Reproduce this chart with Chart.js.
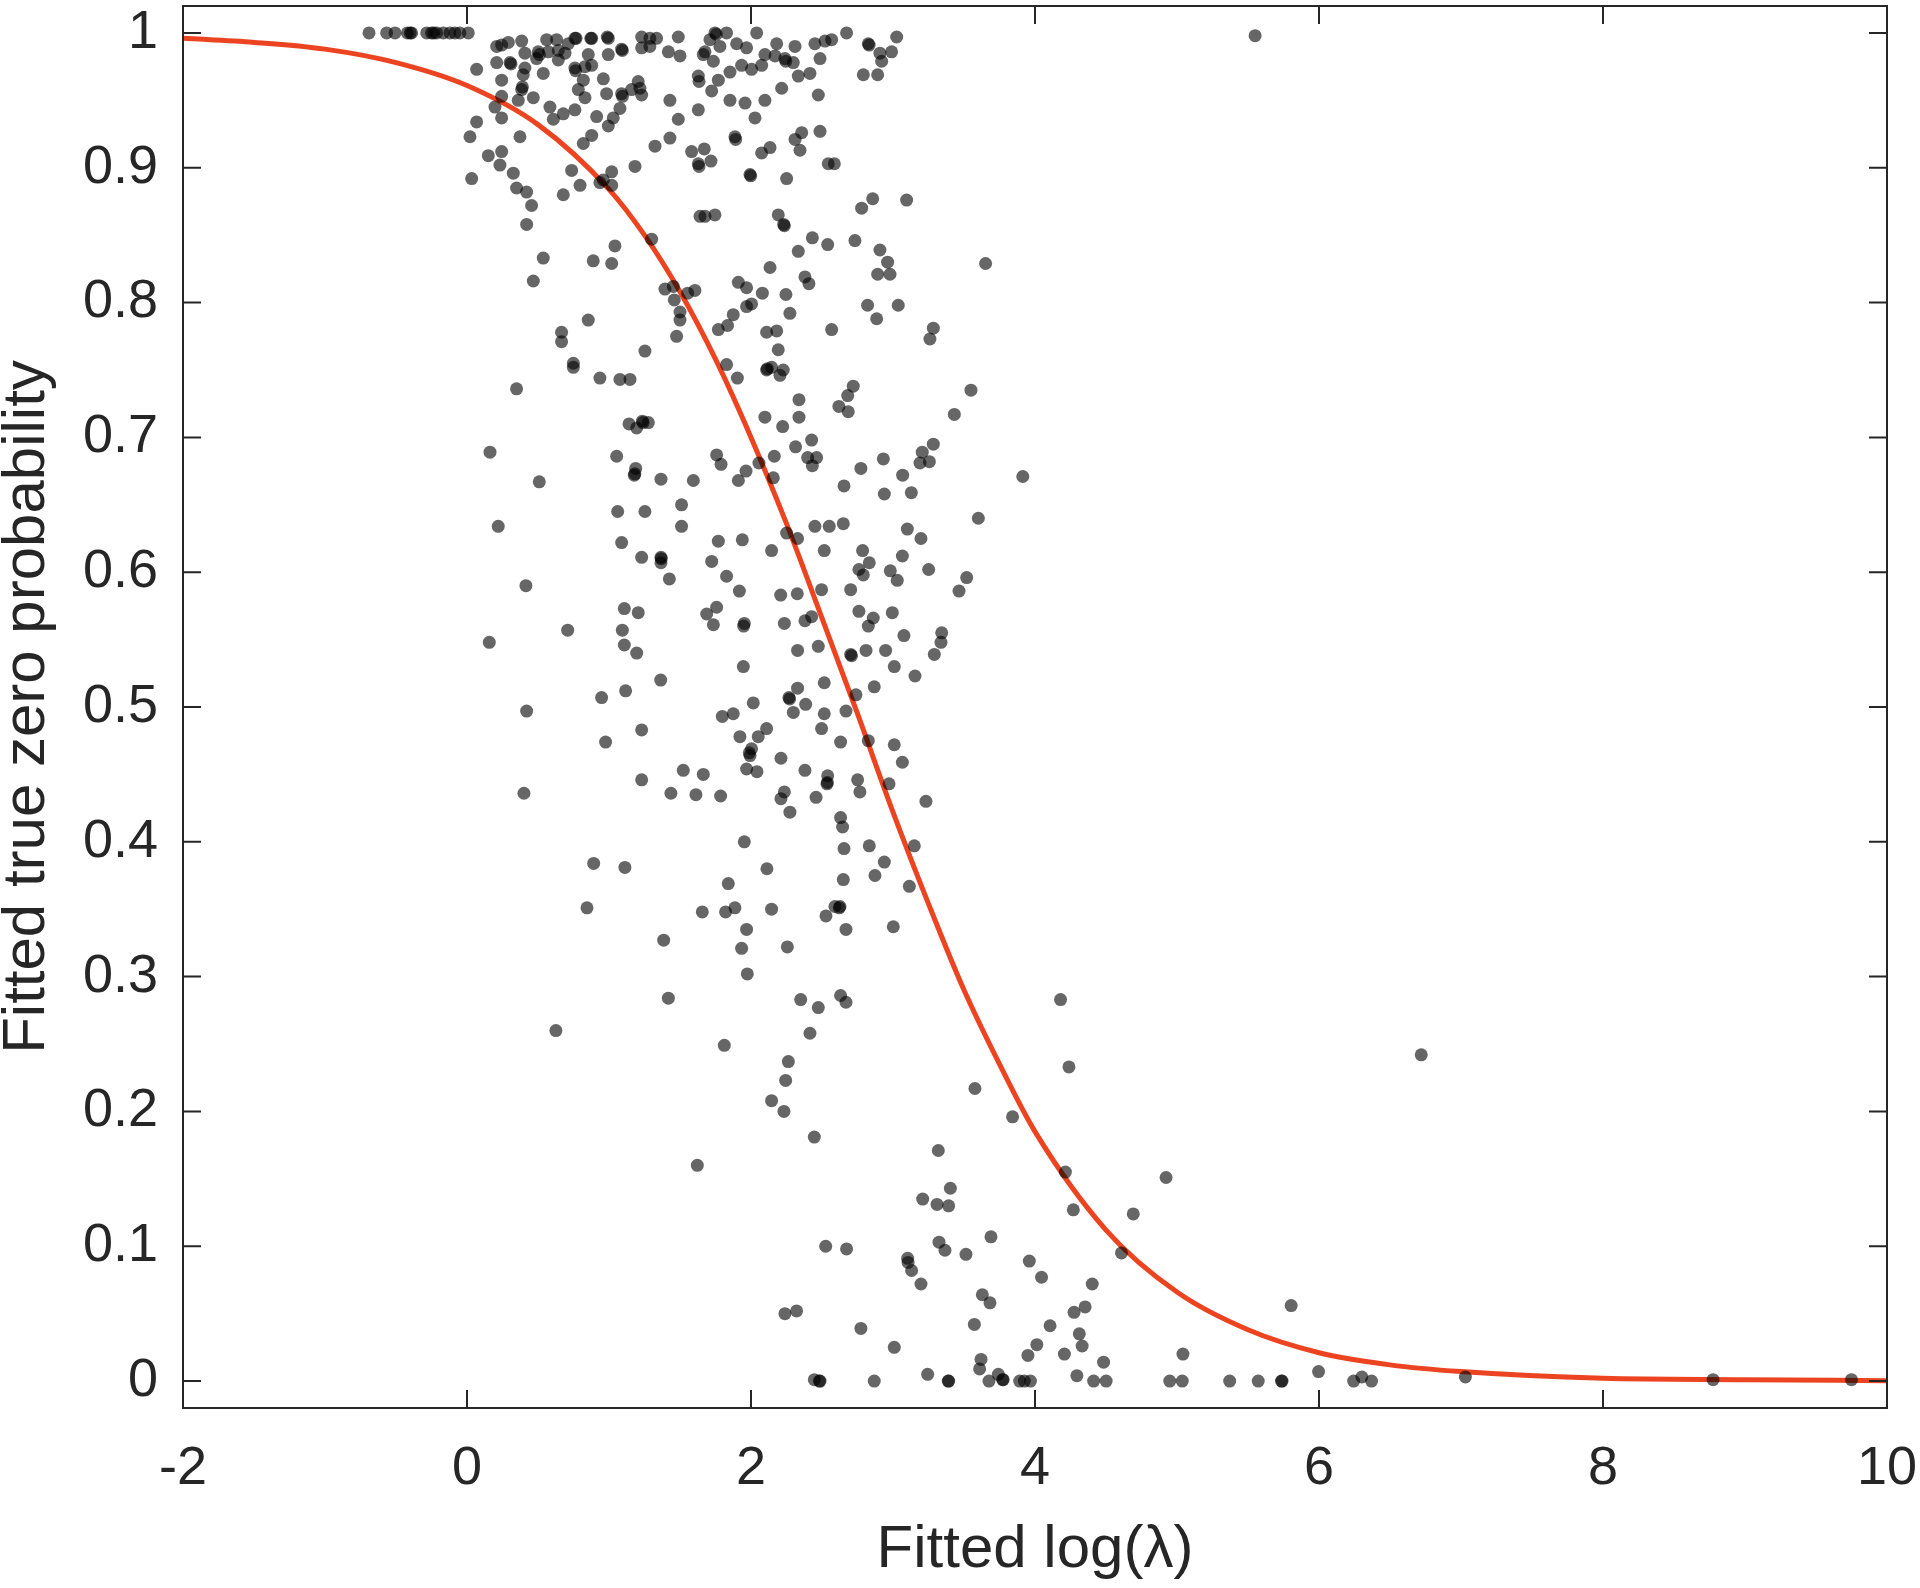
<!DOCTYPE html>
<html>
<head>
<meta charset="utf-8">
<title>Fitted true zero probability</title>
<script src="https://cdn.jsdelivr.net/npm/chart.js@4"></script>
<style>
	html, body { margin: 0; padding: 0; background: #ffffff; }
	#wrap { width: 1920px; height: 1588px; position: relative; }
</style>
</head>
<body>
<div id="wrap"><canvas id="zeroProbChart"></canvas></div>
<script>
// Axis ticks
var xTicks = [-2, 0, 2, 4, 6, 8, 10];
var yTicks = [0, 0.1, 0.2, 0.3, 0.4, 0.5, 0.6, 0.7, 0.8, 0.9, 1];

// Fitted curve
var curveX = [-2, -1.5, -1, -0.5, 0, 0.5, 1, 1.25, 1.5, 1.75, 2, 2.25, 2.5, 2.75, 3, 3.25, 3.5, 3.75, 4, 4.5, 5, 5.5, 6, 6.5, 7, 8, 9, 10];
var curveY = [0.996, 0.993, 0.988, 0.978, 0.961, 0.932, 0.884, 0.850, 0.808, 0.758, 0.700, 0.636, 0.566, 0.495, 0.422, 0.354, 0.290, 0.235, 0.185, 0.112, 0.066, 0.038, 0.021, 0.012, 0.007, 0.002, 0.001, 0.0003];

// Observed points [log(lambda), zero probability]
var topRow = [
	[-0.69,1.0],[-0.566,1.0],[-0.507,1.0],[-0.42,1.0],[-0.40,1.0],[-0.39,1.0],[-0.284,1.0],[-0.25,1.0],
	[-0.235,1.0],[-0.214,1.0],[-0.167,1.0],[-0.12,1.0],[-0.085,1.0],[-0.05,1.0],[0.009,1.0]
];
var lowLambdaPts = [
	[0.244,0.991],[0.291,0.993],[0.385,0.994],[0.561,0.995],[0.631,0.995],[0.713,0.992],
	[0.760,0.996],[0.768,0.996],[0.878,0.996],[0.872,0.996],[0.995,0.996],[0.988,0.997],
	[1.230,0.997],[1.288,0.996],[1.335,0.996],[1.488,0.997],
	[0.209,0.990],[0.408,0.985],[0.502,0.986],[0.510,0.984],[0.573,0.986],[0.643,0.987],[0.690,0.985],[0.854,0.984],
	[0.995,0.984],[1.089,0.988],[1.094,0.987],[1.230,0.989],[1.288,0.990],[1.418,0.986],[1.500,0.983],
	[0.209,0.978],[0.303,0.978],[0.310,0.977],[0.408,0.974],[0.490,0.981],[0.643,0.980],[0.760,0.974],[0.765,0.972],
	[0.831,0.975],[0.878,0.976],[0.068,0.973],[0.537,0.970],[0.396,0.969],
	[0.244,0.965],[0.819,0.965],[0.960,0.966],[1.206,0.964],[1.218,0.959],
	[0.385,0.958],[0.390,0.960],[0.361,0.950],[0.467,0.952],[0.244,0.953],[0.784,0.958],[0.831,0.952],[0.983,0.955],
	[1.089,0.955],[1.095,0.953],[1.159,0.958],[1.230,0.954],[1.429,0.950],
	[0.197,0.945],[0.584,0.945],[0.678,0.940],[0.760,0.943],[0.608,0.936],[0.913,0.938],[1.030,0.937],[0.995,0.931],
	[1.077,0.944],[0.244,0.937],[0.068,0.934],[1.488,0.936],
	[0.021,0.923],[0.373,0.923],[0.878,0.924],[0.819,0.918],[1.324,0.916],[1.429,0.922],
	[0.150,0.909],[0.244,0.912],[0.232,0.902],[0.033,0.892],[0.326,0.896],[0.737,0.898],[1.019,0.897],[1.183,0.901],
	[0.349,0.885],[0.420,0.882],[0.796,0.887],[0.960,0.891],[0.936,0.889],[1.019,0.887],[0.678,0.880],[0.455,0.872],[0.420,0.858],
	[1.300,0.847],[1.042,0.842],[0.537,0.833],[0.889,0.831],[1.019,0.829],[0.467,0.816],
	[1.394,0.810],[1.453,0.812],[1.460,0.802],[1.500,0.793],[1.500,0.787],[0.854,0.787],[0.666,0.778],[0.666,0.771],
	[1.476,0.775],[1.253,0.764],
	[0.749,0.755],[0.749,0.752],[0.936,0.744],[1.077,0.743],[1.148,0.743],[0.349,0.736],[1.141,0.710],[1.195,0.707],
	[1.235,0.712],[1.240,0.711],[1.277,0.711],[0.162,0.689],[1.054,0.686],[1.188,0.677],[1.178,0.672],[1.182,0.673],
	[1.366,0.669],[0.509,0.667],[1.061,0.645],[1.253,0.645],[1.511,0.650],[1.511,0.634],[0.220,0.634],[1.089,0.622],
	[1.230,0.611],[1.366,0.611],[1.368,0.610],[1.366,0.607],[1.425,0.595],[0.415,0.590],[1.108,0.573],[1.206,0.570],
	[0.709,0.557],[1.094,0.557],[1.108,0.546],[1.195,0.540],[0.157,0.548],[1.364,0.520],[1.117,0.512],[0.948,0.507],
	[0.420,0.497],[1.230,0.483],[0.976,0.474],[1.523,0.453],[1.230,0.446],[1.436,0.436],[0.401,0.436],[0.892,0.384],
	[1.112,0.381],[0.845,0.351],[1.385,0.327],[1.418,0.284],[0.626,0.260]
];
var midLambdaPts = [
	[1.746,1.000],[1.756,0.999],[1.828,1.000],[2.040,1.000],[1.711,0.995],[1.676,0.986],[1.664,0.984],[1.781,0.990],
	[1.899,0.992],[1.969,0.989],[1.735,0.979],[1.629,0.968],[1.634,0.964],[1.852,0.971],[1.934,0.976],[2.004,0.973],
	[2.075,0.976],[2.098,0.984],[2.169,0.983],[2.239,0.981],[2.245,0.979],[2.298,0.978],[2.181,0.992],[2.310,0.990],
	[2.450,0.992],[2.521,0.994],[2.568,0.995],[2.673,1.000],[2.826,0.992],[2.832,0.991],[2.908,0.985],[2.920,0.979],
	[2.990,0.986],[3.026,0.997],[2.486,0.981],[2.333,0.968],[2.415,0.970],[2.791,0.969],[2.892,0.969],[1.770,0.965],
	[1.723,0.957],[1.852,0.950],[1.958,0.948],[2.098,0.950],[2.028,0.937],[2.216,0.959],[2.474,0.954],[1.629,0.943],
	[1.887,0.923],[1.892,0.921],[2.310,0.921],[2.357,0.926],[2.345,0.913],[2.486,0.927],[1.582,0.912],[1.671,0.914],
	[1.629,0.903],[1.634,0.901],[1.718,0.905],[2.075,0.911],[2.134,0.915],[2.544,0.903],[2.587,0.903],[1.993,0.895],
	[1.998,0.894],[2.251,0.892],[2.779,0.870],[2.857,0.877],[3.096,0.876],[1.641,0.864],[1.676,0.864],[1.746,0.865],
	[2.192,0.865],[2.230,0.858],[2.235,0.857],[2.432,0.848],[2.540,0.843],[2.333,0.838],[2.732,0.846],[2.908,0.839],
	[2.962,0.830],[2.892,0.821],[2.979,0.821],[3.652,0.829],[2.134,0.826],[1.911,0.815],[1.969,0.811],[2.080,0.807],
	[2.246,0.806],[2.380,0.819],[2.408,0.814],[1.605,0.809],[1.554,0.807],[1.969,0.797],[2.004,0.799],[1.875,0.791],
	[2.274,0.792],[2.821,0.798],[2.885,0.788],[3.037,0.798],[1.770,0.780],[1.835,0.783],[2.110,0.778],[2.181,0.779],
	[2.568,0.780],[2.192,0.765],[3.284,0.781],[3.260,0.773],
	[1.828,0.754],[2.110,0.750],[2.115,0.751],[2.145,0.752],[2.227,0.750],[2.204,0.746],[1.904,0.744],[2.720,0.738],
	[2.681,0.731],[2.619,0.723],[2.685,0.719],[3.549,0.735],[3.432,0.717],[2.338,0.728],[2.338,0.715],[2.098,0.715],
	[2.223,0.708],[2.427,0.698],[2.314,0.693],[2.399,0.685],[2.462,0.685],[2.432,0.679],[2.164,0.686],[1.758,0.687],
	[1.789,0.680],[2.056,0.681],[1.965,0.675],[1.911,0.668],[2.157,0.670],[1.594,0.668],[2.932,0.684],[2.774,0.677],
	[3.068,0.672],[3.284,0.695],[3.206,0.689],[3.190,0.681],[3.256,0.682],[2.655,0.664],[2.939,0.658],[3.129,0.659],
	[3.601,0.640],[2.450,0.634],[2.551,0.634],[2.650,0.636],[2.251,0.629],[2.328,0.625],[1.770,0.623],[1.939,0.624],
	[2.145,0.616],[1.723,0.608],[1.828,0.597],[1.918,0.586],[2.209,0.583],[2.326,0.584],[2.497,0.587],[2.702,0.587],
	[2.516,0.616],[2.786,0.616],[2.833,0.607],[2.760,0.602],[2.791,0.598],[2.981,0.601],[3.030,0.594],[3.101,0.632],
	[3.197,0.625],[3.066,0.612],[3.251,0.602],[3.519,0.596],[3.465,0.586],[1.758,0.574],[1.688,0.569],[1.735,0.561],
	[1.953,0.562],[1.948,0.560],[2.235,0.562],[2.380,0.564],[2.427,0.567],[2.760,0.571],[2.861,0.566],[2.826,0.560],
	[2.995,0.570],[3.077,0.553],[3.343,0.555],[3.338,0.548],[3.291,0.539],[2.328,0.542],[2.474,0.545],[2.702,0.539],
	[2.708,0.538],[2.810,0.542],[2.948,0.542],[3.009,0.530],[3.155,0.523],[1.946,0.530],[2.516,0.518],[2.328,0.514],
	[2.267,0.507],[2.272,0.506],[2.016,0.503],[2.385,0.502],[2.739,0.509],[2.868,0.515],[3.914,0.671],
	[1.798,0.493],[1.875,0.495],[2.298,0.496],[2.516,0.495],[2.669,0.497],[2.110,0.484],[1.922,0.478],[2.051,0.478],
	[2.497,0.484],[2.631,0.474],[2.826,0.475],[3.009,0.472],[3.066,0.459],[2.004,0.469],[1.988,0.466],[1.993,0.464],
	[2.211,0.462],[1.969,0.454],[2.042,0.452],[2.380,0.453],[1.664,0.450],[2.540,0.449],[2.535,0.443],[2.538,0.444],
	[2.751,0.446],[2.972,0.443],[2.767,0.437],[1.612,0.435],[1.786,0.434],[2.235,0.437],[2.211,0.432],[2.458,0.433],
	[2.274,0.422],[3.232,0.430],[2.631,0.418],[2.645,0.411],[1.953,0.400],[2.655,0.395],[2.833,0.397],[3.150,0.397],
	[2.939,0.385],[2.873,0.375],[2.112,0.380],[2.650,0.372],[3.115,0.367],[1.840,0.369],[1.657,0.348],[1.821,0.348],
	[1.887,0.351],[2.145,0.350],[2.591,0.352],[2.627,0.352],[2.622,0.351],[2.528,0.345],[2.669,0.335],[3.002,0.337],
	[1.969,0.335],[1.934,0.321],[2.256,0.322],[1.974,0.302],[2.350,0.283],[2.474,0.277],[2.631,0.286],[2.669,0.281],
	[2.415,0.258],[1.812,0.249]
];
var highLambdaPts = [
	[2.263,0.237],[2.244,0.223],[2.145,0.208],[2.232,0.200],[2.446,0.181],[1.622,0.160],[3.577,0.217],[3.319,0.171],
	[3.404,0.143],[3.209,0.135],[3.310,0.131],[3.392,0.130],[3.690,0.107],[2.526,0.100],[2.673,0.098],[3.324,0.103],
	[3.366,0.097],[3.514,0.094],[3.103,0.091],[3.106,0.088],[3.131,0.082],[3.197,0.072],[3.629,0.064],[3.683,0.058],
	[2.239,0.050],[2.321,0.052],[2.774,0.039],[3.573,0.042],[3.009,0.025],[3.620,0.016],[3.610,0.009],[2.446,0.001],
	[2.486,0.000],[2.482,0.000],[2.868,0.000],[3.244,0.005],[3.389,0.000],[3.392,0.000],[3.676,0.000],[3.742,0.005],
	[3.772,0.001],[3.776,0.001],
	[4.239,0.233],[4.180,0.283],[3.842,0.196],[4.214,0.155],[4.270,0.127],[4.923,0.151],[4.692,0.124],[4.609,0.095],
	[3.960,0.089],[4.046,0.077],[4.403,0.072],[4.353,0.055],[4.275,0.051],[4.106,0.041],[4.312,0.035],[4.332,0.026],
	[4.013,0.027],[3.950,0.019],[4.207,0.020],[4.483,0.014],[4.295,0.004],[5.042,0.020],[5.804,0.056],[5.997,0.007],
	[3.892,0.000],[3.925,0.000],[3.968,0.000],[4.413,0.000],[4.501,0.000],[4.949,0.000],[5.037,0.000],[5.371,0.000],
	[5.572,0.000],[5.736,0.000],[5.740,0.000],[6.244,0.000],[6.302,0.003],[6.370,0.000],[7.031,0.003],
	[6.720,0.242],[5.550,0.998],[8.775,0.001],[9.750,0.001]
];

var AXIS_COLOR = '#262626';
var TICK_LEN = 18;
var FONT = "'Liberation Sans', Arial, Helvetica, sans-serif";

// Box round the plot with MATLAB style inward ticks on all four sides
var boxTicksPlugin = {
	id: 'boxTicks',
	afterDraw: function(chart) {
		var ctx = chart.ctx, a = chart.chartArea;
		var xs = chart.scales.x, ys = chart.scales.y;
		ctx.save();
		ctx.strokeStyle = AXIS_COLOR;
		ctx.lineWidth = 2;
		ctx.beginPath();
		xTicks.forEach(function(v) {
			var px = xs.getPixelForValue(v);
			ctx.moveTo(px, a.bottom); ctx.lineTo(px, a.bottom - TICK_LEN);
			ctx.moveTo(px, a.top); ctx.lineTo(px, a.top + TICK_LEN);
		});
		yTicks.forEach(function(v) {
			var py = ys.getPixelForValue(v);
			ctx.moveTo(a.left, py); ctx.lineTo(a.left + TICK_LEN, py);
			ctx.moveTo(a.right, py); ctx.lineTo(a.right - TICK_LEN, py);
		});
		ctx.rect(a.left, a.top, a.right - a.left, a.bottom - a.top);
		ctx.stroke();
		ctx.restore();
	}
};

function toXY(arr) {
	return arr.map(function(p) { return {x: p[0], y: p[1]}; });
}

// No label driven padding: the plot box has fixed edges
function fixPadding(scale) {
	scale.paddingTop = 0;
	scale.paddingBottom = 0;
	scale.paddingLeft = 0;
	scale.paddingRight = 0;
}

function buildChart() {
	var allPts = topRow.concat(lowLambdaPts, midLambdaPts, highLambdaPts);
	var curvePts = curveX.map(function(x, i) { return {x: x, y: curveY[i]}; });
	var ctx = document.getElementById('zeroProbChart');
	return new Chart(ctx, {
		type: 'scatter',
		data: {
			datasets: [{
				type: 'scatter',
				data: toXY(allPts),
				pointRadius: 6.5,
				pointHoverRadius: 6.5,
				borderWidth: 0,
				backgroundColor: 'rgba(0,0,0,0.6)',
				order: 0
			}, {
				type: 'line',
				data: curvePts,
				borderColor: '#ec4420',
				borderWidth: 5,
				pointRadius: 0,
				fill: false,
				cubicInterpolationMode: 'monotone',
				order: 1
			}]
		},
		options: {
			responsive: true,
			maintainAspectRatio: false,
			animation: false,
			devicePixelRatio: 1,
			layout: { autoPadding: false, padding: { top: 6, right: 33, left: 0, bottom: 0 } },
			plugins: { legend: { display: false }, tooltip: { enabled: false } },
			scales: {
				x: {
					type: 'linear',
					min: -2, max: 10,
					grid: { display: false, drawTicks: false },
					border: { display: false },
					afterBuildTicks: function(scale) {
						scale.ticks = xTicks.map(function(v) { return {value: v}; });
					},
					afterFit: function(scale) { scale.height = 180; fixPadding(scale); },
					ticks: {
						padding: 29,
						color: AXIS_COLOR,
						maxRotation: 0,
						font: { family: FONT, size: 54 },
						callback: function(v) { return String(v); }
					},
					title: {
						display: true,
						text: 'Fitted log(λ)',
						color: AXIS_COLOR,
						font: { family: FONT, size: 60, lineHeight: 0.9 },
						padding: { top: 0, bottom: 11 }
					}
				},
				y: {
					type: 'linear',
					min: -0.02, max: 1.02,
					grid: { display: false, drawTicks: false },
					border: { display: false },
					afterBuildTicks: function(scale) {
						scale.ticks = yTicks.map(function(v) { return {value: v}; });
					},
					afterFit: function(scale) { scale.width = 183; fixPadding(scale); },
					ticks: {
						padding: 25,
						color: AXIS_COLOR,
						font: { family: FONT, size: 54 },
						callback: function(v) { return String(Math.round(v * 10) / 10); }
					},
					title: {
						display: true,
						text: 'Fitted true zero probability',
						color: AXIS_COLOR,
						font: { family: FONT, size: 60, lineHeight: 0.9 },
						padding: { top: 0, bottom: 0 }
					}
				}
			}
		},
		plugins: [boxTicksPlugin]
	});
}

buildChart();
</script>
</body>
</html>
